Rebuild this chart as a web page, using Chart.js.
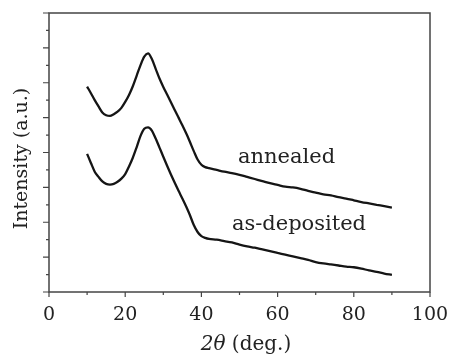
<!DOCTYPE html>
<html>
<head>
<meta charset="utf-8">
<script src="https://cdn.jsdelivr.net/npm/chart.js@4/dist/chart.umd.min.js"></script>
<style>
    html, body { margin: 0; padding: 0; background: #fff; }
    #wrap { width: 453px; height: 358px; }
</style>
</head>
<body>
<div id="wrap"><canvas id="xrdChart" width="453" height="358"></canvas></div>
<script>
// 2theta positions (deg.)
const twoTheta = [10, 11, 12, 13, 14, 15, 16, 17, 18, 19, 20, 21, 22, 23, 24, 25, 26, 27, 28, 29,
    30, 31, 32, 33, 34, 35, 36, 37, 38, 39, 40, 41, 42, 44, 46, 48, 50, 52, 54, 56,
    58, 60, 62, 64, 66, 68, 70, 72, 74, 76, 78, 80, 82, 84, 86, 88, 90];

// intensity (a.u.)
const annealed = [5.89, 5.7, 5.5, 5.32, 5.15, 5.07, 5.05, 5.1, 5.17, 5.28, 5.45, 5.65, 5.9, 6.2, 6.5, 6.75, 6.84, 6.68, 6.4, 6.12,
    5.88, 5.66, 5.44, 5.22, 5.0, 4.78, 4.55, 4.3, 4.04, 3.8, 3.65, 3.58, 3.55, 3.5, 3.45, 3.41, 3.36, 3.3, 3.24, 3.18,
    3.12, 3.07, 3.02, 3.0, 2.96, 2.9, 2.85, 2.8, 2.77, 2.72, 2.68, 2.63, 2.58, 2.54, 2.5, 2.46, 2.42];

const asDeposited = [3.96, 3.7, 3.45, 3.3, 3.17, 3.1, 3.08, 3.1, 3.16, 3.25, 3.38, 3.6, 3.85, 4.15, 4.47, 4.68, 4.72, 4.63, 4.4, 4.14,
    3.88, 3.62, 3.37, 3.13, 2.9, 2.68, 2.45, 2.2, 1.92, 1.72, 1.6, 1.55, 1.52, 1.5, 1.46, 1.42, 1.36, 1.31, 1.27, 1.22,
    1.17, 1.12, 1.07, 1.02, 0.97, 0.92, 0.86, 0.82, 0.79, 0.76, 0.73, 0.71, 0.67, 0.62, 0.58, 0.53, 0.49];

const xTicks = [0, 20, 40, 60, 80, 100];
const seriesNames = ["annealed", "as-deposited"];

const serif = "'DejaVu Serif', 'Liberation Serif', serif";

function toPoints(ys) {
    return twoTheta.map(function (x, i) { return { x: x, y: ys[i] }; });
}

// frame, tick marks, axis titles and curve labels
const decorations = {
    id: "decorations",
    afterDraw(chart) {
        const ctx = chart.ctx;
        const area = chart.chartArea;
        const xs = chart.scales.x;
        const ys = chart.scales.y;

        ctx.save();
        ctx.strokeStyle = "#444";
        ctx.lineWidth = 1.5;
        ctx.strokeRect(area.left, area.top, area.right - area.left, area.bottom - area.top);

        ctx.lineWidth = 1.2;
        ctx.beginPath();
        for (let v = 0; v <= 100; v += 10) {
            const px = xs.getPixelForValue(v);
            const len = v % 20 === 0 ? 5 : 3;
            ctx.moveTo(px, area.bottom);
            ctx.lineTo(px, area.bottom + len);
        }
        for (let v = 0; v <= 8; v += 0.5) {
            const py = ys.getPixelForValue(v);
            const len = v % 1 === 0 ? 6 : 3;
            ctx.moveTo(area.left, py);
            ctx.lineTo(area.left - len, py);
        }
        ctx.stroke();

        ctx.fillStyle = "#222";
        ctx.textBaseline = "alphabetic";

        // curve labels
        ctx.font = "21px " + serif;
        ctx.textAlign = "left";
        ctx.fillText(seriesNames[0], xs.getPixelForValue(49.6), ys.getPixelForValue(3.71));
        ctx.fillText(seriesNames[1], xs.getPixelForValue(48.0), ys.getPixelForValue(1.77));

        // x title: italic 2θ then (deg.)
        const partA = "2θ";
        const partB = " (deg.)";
        ctx.font = "italic 20px " + serif;
        const wA = ctx.measureText(partA).width;
        ctx.font = "20px " + serif;
        const wB = ctx.measureText(partB).width;
        let tx = 246 - (wA + wB) / 2;
        const ty = 350;
        ctx.font = "italic 20px " + serif;
        ctx.fillText(partA, tx, ty);
        ctx.font = "20px " + serif;
        ctx.fillText(partB, tx + wA, ty);

        // y title
        ctx.translate(27, (area.top + area.bottom) / 2 + 6);
        ctx.rotate(-Math.PI / 2);
        ctx.textAlign = "center";
        ctx.font = "19px " + serif;
        ctx.fillText("Intensity (a.u.)", 0, 0);
        ctx.restore();
    }
};

const chart = new Chart(document.getElementById("xrdChart"), {
    type: "line",
    data: {
        datasets: [
            {
                label: seriesNames[0],
                data: toPoints(annealed),
                borderColor: "#151515",
                borderWidth: 2.3,
                pointRadius: 0,
                cubicInterpolationMode: "monotone",
                fill: false
            },
            {
                label: seriesNames[1],
                data: toPoints(asDeposited),
                borderColor: "#151515",
                borderWidth: 2.3,
                pointRadius: 0,
                cubicInterpolationMode: "monotone",
                fill: false
            }
        ]
    },
    options: {
        responsive: false,
        animation: false,
        layout: {
            padding: { top: 13, right: 23, left: 0, bottom: 0 }
        },
        plugins: {
            legend: { display: false },
            tooltip: { enabled: false }
        },
        scales: {
            x: {
                type: "linear",
                min: 0,
                max: 100,
                afterBuildTicks(scale) {
                    scale.ticks = xTicks.map(function (v) { return { value: v }; });
                },
                afterFit(scale) {
                    scale.height = 66;
                    scale.paddingLeft = 0;
                    scale.paddingRight = 0;
                },
                grid: { display: false, drawTicks: false },
                border: { display: false },
                ticks: {
                    padding: 12,
                    maxRotation: 0,
                    color: "#222",
                    font: { family: serif, size: 19 }
                }
            },
            y: {
                type: "linear",
                min: 0,
                max: 8,
                afterFit(scale) {
                    scale.width = 49;
                    scale.paddingTop = 0;
                    scale.paddingBottom = 0;
                },
                grid: { display: false, drawTicks: false },
                border: { display: false },
                ticks: { display: false }
            }
        }
    },
    plugins: [decorations]
});
</script>
</body>
</html>
